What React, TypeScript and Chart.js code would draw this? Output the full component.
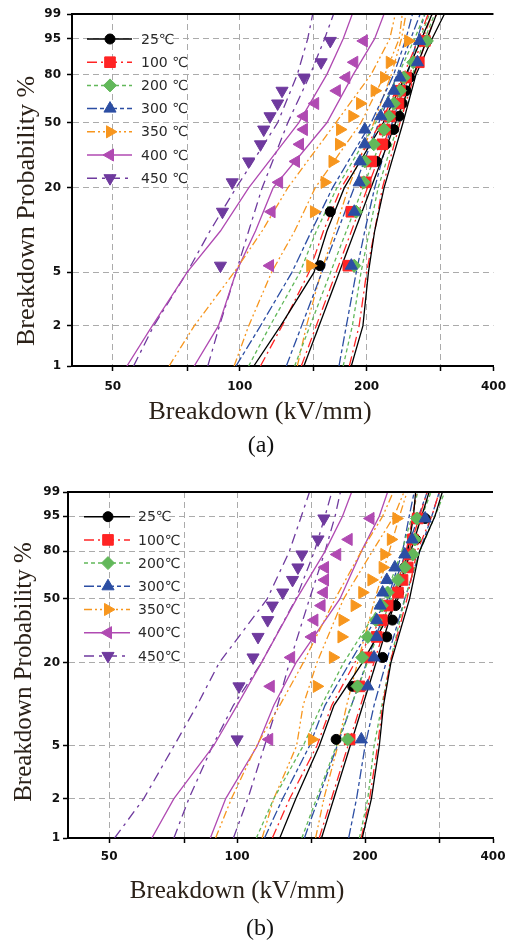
import React, { useEffect, useRef } from 'react';
import { Chart, Scale, registerables } from 'chart.js';

Chart.register(...registerables);

// ---------------- DATA ----------------
// Probability levels (%) of the plotted failure points (median ranks)
const F_MARKS = [5.6, 13.7, 21.8, 29.8, 37.9, 46, 54, 62.1, 70.2, 78.2, 86.3, 94.4];
// Probability levels (%) at which the confidence-bound curves are read
const F_GRID = [1, 2, 5, 10, 20, 50, 80, 95, 99];
// Probability levels (%) of the two ends of each fitted straight line
const F_FIT = [1, 99];

const Y_TICKS = [1, 2, 5, 20, 50, 80, 95, 99];
const X_TICKS = [50, 75, 100, 150, 200, 300, 400];
const X_LABELS = [50, 100, 200, 400];

const A_LABELS = ['25℃', '100 ℃', '200 ℃', '300 ℃', '350 ℃', '400 ℃', '450 ℃'];
const B_LABELS = ['25℃', '100℃', '200℃', '300℃', '350℃', '400℃', '450℃'];

// ----- chart (a): breakdown strength (kV/mm) of each point -----
const A_PTS_25 = [155, 164, 196, 211, 222, 232, 239, 243, 248, 253, 263, 278];
const A_PTS_100 = [181, 184, 199, 205, 218, 221, 227, 238, 240, 248, 266, 275];
const A_PTS_200 = [187, 189, 197, 198, 208, 220, 226, 232, 240, 245, 258, 278];
const A_PTS_300 = [184, 187, 192, 193, 198, 198, 216, 225, 232, 240, 264, 267];
const A_PTS_350 = [147, 150, 159, 166, 172, 173, 185, 193, 209, 220, 227, 251];
const A_PTS_400 = [118, 119, 124, 136, 139, 142, 142, 151, 170, 179, 187, 197];
const A_PTS_450 = [90, 91, 96, 105, 112, 114, 118, 123, 126, 142, 156, 164];

// chart (a) lines: bounds at F_GRID, fits at F_FIT
const A_LOW_25 = [108, 125, 150, 161, 177, 219, 248, 270, 286];
const A_UP_25 = [184, 196, 202, 209, 220, 244, 262, 286, 306];
const A_FIT_25 = [142, 293];
const A_LOW_100 = [112, 126, 146, 158, 174, 216, 245, 266, 280];
const A_UP_100 = [182, 192, 200, 209, 218, 240, 260, 278, 293];
const A_FIT_100 = [140, 286];
const A_LOW_200 = [105, 118, 139, 152, 170, 210, 238, 260, 275];
const A_UP_200 = [176, 185, 194, 203, 213, 238, 257, 275, 290];
const A_FIT_200 = [135, 282];
const A_LOW_300 = [98, 112, 133, 148, 166, 205, 232, 248, 257];
const A_UP_300 = [172, 179, 189, 198, 209, 230, 250, 264, 275];
const A_FIT_300 = [129, 268];
const A_LOW_350 = [68, 78, 97, 113, 130, 169, 205, 227, 234];
const A_MID_350 = [97, 105, 119, 135, 151, 194, 221, 239, 243];
const A_UP_350 = [137, 144, 156, 168, 181, 208, 229, 242, 248];
const A_LOW_400 = [54, 62, 75, 90, 105, 138, 161, 176, 185];
const A_UP_400 = [78, 89, 98, 109, 120, 161, 186, 209, 220];
const A_LOW_450 = [56, 62.5, 75, 85, 98, 123, 137, 145, 149];
const A_UP_450 = [84, 89.5, 98, 105, 113, 130, 147, 159, 167];

// ----- chart (b) -----
const B_PTS_25 = [171, 187, 220, 225, 232, 236, 240, 244, 248, 255, 263, 277];
const B_PTS_100 = [184, 194, 203, 213, 219, 226, 239, 245, 252, 255, 259, 266];
const B_PTS_200 = [182, 192, 197, 203, 212, 219, 226, 239, 248, 259, 262, 265];
const B_PTS_300 = [196, 203, 210, 213, 213, 217, 220, 225, 235, 248, 258, 277];
const B_PTS_350 = [150, 154, 168, 176, 177, 189, 197, 207, 220, 222, 230, 237];
const B_PTS_400 = [119, 120, 134, 150, 152, 158, 160, 161, 161, 172, 183, 206];
const B_PTS_450 = [100, 101, 109, 112, 118, 121, 128, 135, 139, 142, 155, 160];

const B_LOW_25 = [126, 137.5, 156, 169, 197, 239, 252, 260, 263];
const B_UP_25 = [197, 207, 216, 221, 230, 254.5, 268.5, 292, 304];
const B_FIT_25 = [158, 283];
const B_LOW_100 = [121, 133, 154, 167, 189, 233, 250, 259, 264];
const B_UP_100 = [196, 205, 214, 220, 229, 251, 265, 287, 299];
const B_FIT_100 = [156, 280];
const B_LOW_200 = [111, 122, 143, 158, 178, 222, 244, 258, 266];
const B_UP_200 = [194, 203, 210, 219, 229, 248, 269, 292, 308];
const B_FIT_200 = [142, 286];
const B_LOW_300 = [116, 128, 148, 161, 184, 226, 245, 254, 261];
const B_UP_300 = [183, 191, 200, 210, 224, 248, 269, 287, 299];
const B_FIT_300 = [144, 280];
const B_LOW_350 = [89, 97, 111, 126, 143, 170, 196, 220, 233];
const B_MID_350 = [114.5, 122, 138, 143, 154, 178, 208, 234, 247];
const B_UP_350 = [153, 160, 172.5, 181, 192, 211, 228, 241, 251];
const B_LOW_400 = [63, 71, 88, 100, 114, 138, 161, 177, 186];
const B_UP_400 = [86.5, 94, 111.5, 122, 137.5, 174.5, 196, 216, 226];
const B_LOW_450 = [51.5, 60.3, 71, 80.5, 90.7, 117.7, 132.7, 141.6, 148];
const B_MID_450 = [71, 77, 87.5, 98, 114, 137.5, 152, 161, 167];
const B_UP_450 = [98, 106, 116, 124.5, 132.7, 148, 161, 170, 175];

// ---------------- STYLES ----------------
const GRID_COLOR = '#ababab';
const STYLES = [
  { color: '#000000', dash: [], shape: 'circle', rot: 0, r: 5 },
  { color: '#ff2424', dash: [10, 4, 2, 4], shape: 'rect', rot: 0, r: 7.5 },
  { color: '#62b85a', dash: [4, 3], shape: 'rectRot', rot: 0, r: 6.5 },
  { color: '#2c4ea3', dash: [10, 3, 4, 3], shape: 'triangle', rot: 0, r: 7 },
  { color: '#f7961e', dash: [8, 3, 2, 3, 2, 3], shape: 'triangle', rot: 90, r: 7 },
  { color: '#b04ab2', dash: [], shape: 'triangle', rot: 270, r: 7 },
  { color: '#6f3a9e', dash: [10, 5, 3, 5], shape: 'triangle', rot: 180, r: 7 },
];

const SERIES_A = [
  { pts: A_PTS_25, bounds: [A_LOW_25, A_UP_25], fits: [A_FIT_25] },
  { pts: A_PTS_100, bounds: [A_LOW_100, A_UP_100], fits: [A_FIT_100] },
  { pts: A_PTS_200, bounds: [A_LOW_200, A_UP_200], fits: [A_FIT_200] },
  { pts: A_PTS_300, bounds: [A_LOW_300, A_UP_300], fits: [A_FIT_300] },
  { pts: A_PTS_350, bounds: [A_LOW_350, A_MID_350, A_UP_350], fits: [] },
  { pts: A_PTS_400, bounds: [A_LOW_400, A_UP_400], fits: [] },
  { pts: A_PTS_450, bounds: [A_LOW_450, A_UP_450], fits: [] },
];
const SERIES_B = [
  { pts: B_PTS_25, bounds: [B_LOW_25, B_UP_25], fits: [B_FIT_25] },
  { pts: B_PTS_100, bounds: [B_LOW_100, B_UP_100], fits: [B_FIT_100] },
  { pts: B_PTS_200, bounds: [B_LOW_200, B_UP_200], fits: [B_FIT_200] },
  { pts: B_PTS_300, bounds: [B_LOW_300, B_UP_300], fits: [B_FIT_300] },
  { pts: B_PTS_350, bounds: [B_LOW_350, B_MID_350, B_UP_350], fits: [] },
  { pts: B_PTS_400, bounds: [B_LOW_400, B_UP_400], fits: [] },
  { pts: B_PTS_450, bounds: [B_LOW_450, B_MID_450, B_UP_450], fits: [] },
];

const SPEC_A = {
  top: 0, height: 470, series: SERIES_A, labels: A_LABELS,
  padding: { left: 0, right: 17, top: 14, bottom: 0 },
  yAxisWidth: 72, xAxisHeight: 104, yTickPad: 6, xTickPad: 9,
  legend: { x0: 87, x1: 132, xm: 110, xt: 141, y0: 39, dy: 23.2 },
  yTitle: { x: 27, y: 211, size: 26 },
  xTitle: { x: 260, y: 419, size: 26 },
  caption: { text: '(a)', x: 261, y: 452, size: 24 },
};
const SPEC_B = {
  top: 470, height: 471, series: SERIES_B, labels: B_LABELS,
  padding: { left: 0, right: 22, top: 22, bottom: 0 },
  yAxisWidth: 68, xAxisHeight: 103, yTickPad: 3, xTickPad: 7,
  legend: { x0: 84, x1: 130, xm: 108, xt: 138, y0: 46.7, dy: 23.2 },
  yTitle: { x: 24, y: 202, size: 25 },
  xTitle: { x: 237, y: 428, size: 25 },
  caption: { text: '(b)', x: 260, y: 465, size: 24 },
};

// ---------------- Weibull probability scale ----------------
function weibullZ(F: number) {
  return Math.log(-Math.log(1 - F / 100));
}

class WeibullScale extends Scale {
  static id = 'weibull';
  static defaults = {};
  zmin = 0;
  zmax = 1;
  determineDataLimits() {
    this.min = this.options.min;
    this.max = this.options.max;
  }
  buildTicks() {
    return Y_TICKS.map((v) => ({ value: v }));
  }
  getLabelForValue(v: number) {
    return String(v);
  }
  configure() {
    super.configure();
    this.zmin = weibullZ(this.min);
    this.zmax = weibullZ(this.max);
  }
  getPixelForValue(v: number) {
    return this.getPixelForDecimal((weibullZ(v) - this.zmin) / (this.zmax - this.zmin));
  }
  getValueForPixel(p: number) {
    const d = this.getDecimalForPixel(p);
    const z = this.zmin + d * (this.zmax - this.zmin);
    return 100 * (1 - Math.exp(-Math.exp(z)));
  }
}
Chart.register(WeibullScale as any);

// ---------------- helpers ----------------
function drawMark(ctx: CanvasRenderingContext2D, st: any, x: number, y: number) {
  ctx.save();
  ctx.fillStyle = st.color;
  ctx.strokeStyle = st.color;
  ctx.setLineDash([]);
  ctx.lineWidth = 1;
  ctx.beginPath();
  const r = st.r;
  if (st.shape === 'circle') {
    ctx.arc(x, y, r, 0, Math.PI * 2);
  } else if (st.shape === 'rect') {
    const s = Math.SQRT1_2 * r;
    ctx.rect(x - s, y - s, 2 * s, 2 * s);
  } else if (st.shape === 'rectRot') {
    ctx.moveTo(x - r, y);
    ctx.lineTo(x, y - r);
    ctx.lineTo(x + r, y);
    ctx.lineTo(x, y + r);
    ctx.closePath();
  } else {
    let a = (st.rot * Math.PI) / 180;
    for (let k = 0; k < 3; k++) {
      const px = x + Math.sin(a) * r;
      const py = y - Math.cos(a) * r;
      if (k === 0) ctx.moveTo(px, py);
      else ctx.lineTo(px, py);
      a += (2 * Math.PI) / 3;
    }
    ctx.closePath();
  }
  ctx.fill();
  ctx.stroke();
  ctx.restore();
}

function buildDatasets(series: any[]) {
  const markerSets: any[] = [];
  const lineSets: any[] = [];
  series.forEach((s, i) => {
    const st = STYLES[i];
    markerSets.push({
      data: F_MARKS.map((f, j) => ({ x: s.pts[j], y: f })),
      showLine: false,
      pointStyle: st.shape,
      pointRotation: st.rot,
      pointRadius: st.r,
      pointBackgroundColor: st.color,
      pointBorderColor: st.color,
      pointBorderWidth: 1,
      backgroundColor: st.color,
      borderColor: st.color,
    });
    const addLine = (fs: number[], xs: number[]) =>
      lineSets.push({
        data: fs.map((f, j) => ({ x: xs[j], y: f })),
        showLine: true,
        pointRadius: 0,
        borderColor: st.color,
        backgroundColor: st.color,
        borderWidth: 1.3,
        borderDash: st.dash,
        fill: false,
        tension: 0,
      });
    s.bounds.forEach((b: number[]) => addLine(F_GRID, b));
    s.fits.forEach((b: number[]) => addLine(F_FIT, b));
  });
  return [...markerSets.reverse(), ...lineSets];
}

function makeDecor(spec: any) {
  return {
    id: 'decor',
    afterDraw(chart: any) {
      const ctx: CanvasRenderingContext2D = chart.ctx;
      const a = chart.chartArea;
      ctx.save();
      // top frame line
      ctx.setLineDash([]);
      ctx.strokeStyle = '#000';
      ctx.lineWidth = 2;
      ctx.beginPath();
      ctx.moveTo(a.left - 1, a.top);
      ctx.lineTo(a.right, a.top);
      ctx.stroke();

      // legend
      const L = spec.legend;
      spec.labels.forEach((lab: string, i: number) => {
        const st = STYLES[i];
        const y = L.y0 + i * L.dy;
        ctx.save();
        ctx.strokeStyle = st.color;
        ctx.lineWidth = 1.5;
        ctx.setLineDash(st.dash);
        ctx.beginPath();
        ctx.moveTo(L.x0, y);
        ctx.lineTo(L.x1, y);
        ctx.stroke();
        ctx.restore();
        drawMark(ctx, st, L.xm, y);
        ctx.fillStyle = '#2a2a2a';
        ctx.font = '14px "DejaVu Sans", sans-serif';
        ctx.textAlign = 'left';
        ctx.textBaseline = 'middle';
        ctx.fillText(lab, L.xt, y + 1);
      });

      // y title
      ctx.save();
      ctx.translate(spec.yTitle.x, spec.yTitle.y);
      ctx.rotate(-Math.PI / 2);
      ctx.fillStyle = '#2b2118';
      ctx.font = `${spec.yTitle.size}px "Liberation Serif", "Times New Roman", serif`;
      ctx.textAlign = 'center';
      ctx.textBaseline = 'middle';
      ctx.fillText('Breakdown Probability %', 0, 0);
      ctx.restore();

      // x title
      ctx.fillStyle = '#2b2118';
      ctx.font = `${spec.xTitle.size}px "Liberation Serif", "Times New Roman", serif`;
      ctx.textAlign = 'center';
      ctx.textBaseline = 'alphabetic';
      ctx.fillText('Breakdown (kV/mm)', spec.xTitle.x, spec.xTitle.y);

      // caption
      ctx.fillStyle = '#111';
      ctx.font = `${spec.caption.size}px "Liberation Serif", "Times New Roman", serif`;
      ctx.fillText(spec.caption.text, spec.caption.x, spec.caption.y);
      ctx.restore();
    },
  };
}

function buildConfig(spec: any) {
  const tickFont = { family: '"DejaVu Sans", sans-serif', size: 12, weight: 'bold' as const };
  return {
    type: 'scatter' as const,
    data: { datasets: buildDatasets(spec.series) },
    plugins: [makeDecor(spec)],
    options: {
      responsive: false,
      animation: false as const,
      devicePixelRatio: 1,
      events: [],
      layout: { padding: spec.padding },
      plugins: { legend: { display: false }, tooltip: { enabled: false }, title: { display: false } },
      scales: {
        x: {
          type: 'logarithmic' as const,
          min: 40,
          max: 400,
          position: 'bottom' as const,
          afterBuildTicks: (scale: any) => {
            scale.ticks = X_TICKS.map((v) => ({ value: v, major: false }));
          },
          afterFit: (scale: any) => {
            scale.height = spec.xAxisHeight;
          },
          grid: {
            color: (c: any) => (c.tick && c.tick.value === 400 ? 'rgba(0,0,0,0)' : GRID_COLOR),
            lineWidth: 1,
            drawTicks: true,
            tickLength: 5,
            tickColor: '#000',
            tickWidth: 1.5,
            tickBorderDash: [],
          },
          border: { display: true, color: '#000', width: 2, dash: [6, 4] },
          ticks: {
            autoSkip: false,
            maxRotation: 0,
            padding: spec.xTickPad,
            color: '#111',
            font: tickFont,
            callback: (v: any) => (X_LABELS.includes(Number(v)) ? String(v) : ''),
          },
        },
        y: {
          type: 'weibull',
          min: 1,
          max: 99,
          position: 'left' as const,
          afterFit: (scale: any) => {
            scale.width = spec.yAxisWidth;
          },
          grid: {
            color: (c: any) =>
              c.tick && (c.tick.value === 1 || c.tick.value === 99) ? 'rgba(0,0,0,0)' : GRID_COLOR,
            lineWidth: 1,
            drawTicks: true,
            tickLength: 5,
            tickColor: '#000',
            tickWidth: 1.5,
            tickBorderDash: [],
          },
          border: { display: true, color: '#000', width: 2, dash: [6, 4] },
          ticks: {
            autoSkip: false,
            padding: spec.yTickPad,
            color: '#111',
            font: tickFont,
            callback: (v: any) => String(v),
          },
        },
      },
    },
  };
}

function WeibullChart({ spec }: { spec: any }) {
  const ref = useRef<HTMLCanvasElement | null>(null);
  useEffect(() => {
    if (!ref.current) return;
    const chart = new Chart(ref.current, buildConfig(spec) as any);
    return () => chart.destroy();
  }, [spec]);
  return (
    <canvas
      ref={ref}
      width={515}
      height={spec.height}
      style={{ position: 'absolute', left: 0, top: spec.top, width: 515, height: spec.height, display: 'block' }}
    />
  );
}

export default function App() {
  return (
    <div style={{ position: 'absolute', left: 0, top: 0, width: 515, height: 941, background: '#fff' }}>
      <WeibullChart spec={SPEC_A} />
      <WeibullChart spec={SPEC_B} />
    </div>
  );
}
